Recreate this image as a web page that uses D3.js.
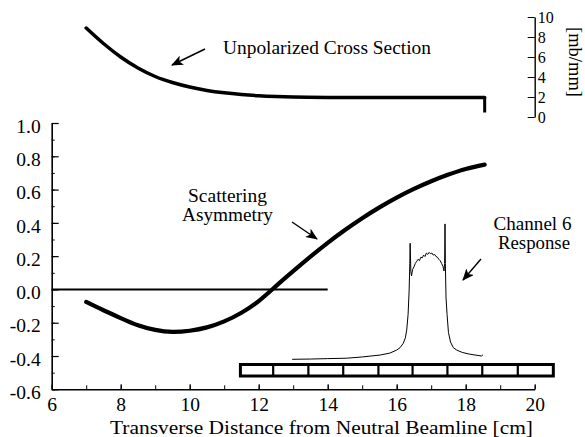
<!DOCTYPE html>
<html>
<head>
<meta charset="utf-8">
<script src="https://cdn.jsdelivr.net/npm/d3@7"></script>
<style>
  body { margin: 0; background: #fff; }
</style>
</head>
<body>
<div id="vis"></div>
<script>
const W = 585, H = 437;
const SERIF = '"Liberation Serif", "Times New Roman", Times, serif';

// --- data ---
// unpolarized cross section [mb/mm] vs transverse distance [cm]
const csX = [7.0, 7.5, 8.0, 8.5, 9.0, 9.5, 10.0, 10.5, 11.0, 11.5, 12.0, 12.5, 13.0, 14.0, 15.0, 16.0, 17.0, 18.0, 18.55];
const csY = [8.9, 7.35, 6.0, 4.9, 4.05, 3.45, 3.0, 2.66, 2.42, 2.25, 2.13, 2.05, 2.0, 1.96, 1.95, 1.95, 1.95, 1.96, 1.96];
const csDropTo = 0.45;

// scattering asymmetry
const asX = [7.0, 7.5, 8.0, 8.5, 9.0, 9.5, 10.0, 10.5, 11.0, 11.5, 12.0, 12.5, 13.0, 13.5, 14.0, 14.5, 15.0, 15.5, 16.0, 16.5, 17.0, 17.5, 18.0, 18.55];
const asY = [-0.075, -0.125, -0.172, -0.215, -0.243, -0.255, -0.248, -0.228, -0.192, -0.14, -0.07, 0.02, 0.11, 0.197, 0.28, 0.357, 0.428, 0.493, 0.552, 0.604, 0.65, 0.69, 0.724, 0.75];

// zero reference line
const zeroLine = [[6, 0], [14, 0]];

// channel 6 response (arbitrary units)
const respX = [12.97, 13.5, 14.0, 14.55, 15.0, 15.52, 15.8, 16.0, 16.1, 16.19, 16.25, 16.29, 16.33, 16.36, 16.38, 16.39, 16.41, 16.43, 16.46, 16.5, 16.54, 16.58, 16.62, 16.66, 16.7, 16.74, 16.78, 16.82, 16.86, 16.9, 16.94, 16.98, 17.02, 17.06, 17.1, 17.14, 17.18, 17.22, 17.26, 17.3, 17.34, 17.37, 17.39, 17.4, 17.41, 17.43, 17.46, 17.5, 17.56, 17.64, 17.74, 17.9, 18.1, 18.3, 18.46, 18.5];
const respV = [0.005, 0.007, 0.01, 0.013, 0.022, 0.036, 0.05, 0.072, 0.09, 0.121, 0.16, 0.217, 0.33, 0.5, 0.7, 0.846, 0.64, 0.61, 0.655, 0.675, 0.7, 0.715, 0.73, 0.72, 0.745, 0.74, 0.76, 0.75, 0.775, 0.765, 0.78, 0.77, 0.775, 0.76, 0.765, 0.75, 0.745, 0.73, 0.72, 0.7, 0.68, 0.645, 0.7, 0.986, 0.7, 0.45, 0.33, 0.2, 0.13, 0.09, 0.072, 0.055, 0.043, 0.035, 0.029, 0.038];

// detector channel edges [cm]
const detEdges = [11.47, 12.42, 13.44, 14.45, 15.47, 16.46, 17.47, 18.48, 19.51, 20.54];

const xTicks = [6, 8, 10, 12, 14, 16, 18, 20];
const yTicks = [-0.6, -0.4, -0.2, 0.0, 0.2, 0.4, 0.6, 0.8, 1.0];
const csTicks = [0, 2, 4, 6, 8, 10];

// --- scales ---
const x = d3.scaleLinear().domain([6, 20]).range([51.7, 534.7]);
const y = d3.scaleLinear().domain([-0.6, 1.0]).range([389.3, 123]);
const yCs = d3.scaleLinear().domain([0, 10]).range([117, 17]);
const yResp = d3.scaleLinear().domain([0, 1]).range([360, 222]);

const svg = d3.select("#vis").append("svg")
    .attr("width", W).attr("height", H);

svg.append("defs").append("marker")
    .attr("id", "arrow")
    .attr("viewBox", "0 0 12 10")
    .attr("refX", 11).attr("refY", 5)
    .attr("markerWidth", 12).attr("markerHeight", 10)
    .attr("markerUnits", "userSpaceOnUse")
    .attr("orient", "auto")
  .append("path")
    .attr("d", "M0,0 L12,5 L0,10 L3,5 Z")
    .attr("fill", "#000");

// --- main axes ---
const fmt = d => d.toFixed(1);

// minor y ticks
svg.append("g")
    .attr("transform", `translate(${x(6)},0)`)
    .call(d3.axisLeft(y).tickValues(d3.range(-6, 11).map(d => d / 10)).tickSize(-3).tickFormat(""))
    .call(g => g.select(".domain").remove());

svg.append("g")
    .attr("class", "yaxis")
    .attr("transform", `translate(${x(6)},0)`)
    .call(d3.axisLeft(y).tickValues(yTicks).tickSizeInner(-7).tickSizeOuter(0).tickPadding(11).tickFormat(fmt))
    .call(g => g.selectAll("text").attr("dy", "0.47em").style("font-size", "19.5px"));

// x axis: ticks pointing up
svg.append("g")
    .attr("transform", `translate(0,${y(-0.6)})`)
    .call(d3.axisBottom(x).tickValues(d3.range(6, 21)).tickSizeInner(-4).tickSizeOuter(0).tickFormat(""))
    .call(g => g.select(".domain").remove());

svg.append("g")
    .attr("class", "xaxis")
    .attr("transform", `translate(0,${y(-0.6)})`)
    .call(d3.axisBottom(x).tickValues(xTicks).tickSizeInner(-5).tickSizeOuter(0).tickPadding(9).tickFormat(d3.format("d")))
    .call(g => g.selectAll("text").attr("dy", "0.63em").style("font-size", "19.5px"));

svg.selectAll(".yaxis .domain, .xaxis .domain").attr("stroke-width", 1.6);
svg.selectAll(".yaxis .tick line, .xaxis .tick line").attr("stroke-width", 1.2);

// --- cross section axis (top right) ---
svg.append("g")
    .attr("class", "csaxis")
    .attr("transform", `translate(${x(20)},0)`)
    .call(d3.axisRight(yCs).tickValues(csTicks).tickSizeInner(-7).tickSizeOuter(0).tickPadding(3))
    .call(g => g.selectAll("text").attr("dy", "0.36em").style("font-size", "16px"));
svg.selectAll(".csaxis .domain").attr("stroke-width", 1.4);

// --- curves ---
const csPts = csX.map((d, i) => [d, csY[i]]);
svg.append("path")
    .attr("d", d3.line().x(d => x(d[0])).y(d => yCs(d[1])).curve(d3.curveMonotoneX)(csPts))
    .attr("fill", "none").attr("stroke", "#000").attr("stroke-width", 3.5)
    .attr("stroke-linecap", "round");

const lastCs = csPts[csPts.length - 1];
svg.append("line")
    .attr("x1", x(lastCs[0])).attr("x2", x(lastCs[0]))
    .attr("y1", yCs(lastCs[1])).attr("y2", yCs(csDropTo))
    .attr("stroke", "#000").attr("stroke-width", 3);

svg.append("path")
    .attr("d", d3.line().x(d => x(d[0])).y(d => y(d[1]))(zeroLine))
    .attr("stroke", "#000").attr("stroke-width", 2);

const asPts = asX.map((d, i) => [d, asY[i]]);
svg.append("path")
    .attr("d", d3.line().x(d => x(d[0])).y(d => y(d[1])).curve(d3.curveNatural)(asPts))
    .attr("fill", "none").attr("stroke", "#000").attr("stroke-width", 4.2)
    .attr("stroke-linecap", "round");

const respPts = respX.map((d, i) => [d, respV[i]]);
svg.append("path")
    .attr("d", d3.line().x(d => x(d[0])).y(d => yResp(d[1]))(respPts))
    .attr("fill", "none").attr("stroke", "#000").attr("stroke-width", 1);

// --- detector channels ---
const detTop = 364.5, detBot = 376;
svg.append("rect")
    .attr("x", x(detEdges[0])).attr("y", detTop)
    .attr("width", x(detEdges[detEdges.length - 1]) - x(detEdges[0]))
    .attr("height", detBot - detTop)
    .attr("fill", "none").attr("stroke", "#000").attr("stroke-width", 3);
svg.selectAll(".div")
    .data(detEdges.slice(1, -1))
    .join("line")
    .attr("x1", d => x(d)).attr("x2", d => x(d))
    .attr("y1", detTop).attr("y2", detBot)
    .attr("stroke", "#000").attr("stroke-width", 2.2);

// --- texts: text, x, baseline y, anchor, width in the figure ---
const notes = [
    ["Unpolarized Cross Section", 223, 54, "start", 208],
    ["Scattering", 227.5, 202, "middle", 79],
    ["Asymmetry", 227.5, 220.5, "middle", 91],
    ["Channel 6", 532.5, 230, "middle", 78],
    ["Response", 534, 248.5, "middle", 72],
    ["Transverse Distance from Neutral Beamline [cm]", 110, 434, "start", 423]
];
svg.selectAll(".note")
    .data(notes)
    .join("text")
    .attr("class", "note")
    .attr("x", d => d[1]).attr("y", d => d[2])
    .attr("text-anchor", d => d[3])
    .attr("textLength", d => d[4])
    .attr("lengthAdjust", "spacingAndGlyphs")
    .style("font-size", "18.5px")
    .text(d => d[0]);

svg.append("text")
    .attr("transform", `translate(569,62) rotate(90)`)
    .attr("text-anchor", "middle")
    .attr("textLength", 70)
    .attr("lengthAdjust", "spacingAndGlyphs")
    .style("font-size", "18px")
    .text("[mb/mm]");

svg.selectAll("text").style("font-family", SERIF).attr("fill", "#000");

const arrows = [
    [[205, 49], [172, 65]],
    [[292, 222], [317, 239]],
    [[481, 259], [463, 280]]
];
svg.selectAll(".arr")
    .data(arrows)
    .join("line")
    .attr("x1", d => d[0][0]).attr("y1", d => d[0][1])
    .attr("x2", d => d[1][0]).attr("y2", d => d[1][1])
    .attr("stroke", "#000").attr("stroke-width", 1.4)
    .attr("marker-end", "url(#arrow)");
</script>
</body>
</html>
